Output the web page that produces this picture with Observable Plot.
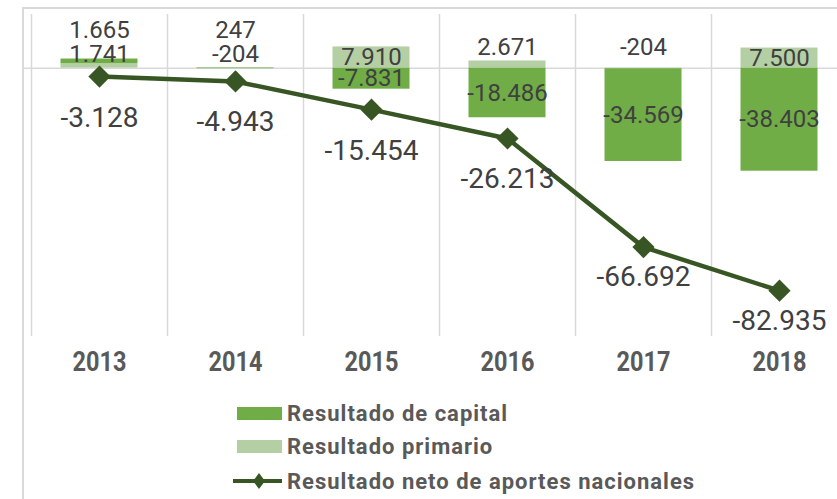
<!DOCTYPE html>
<html><head><meta charset="utf-8">
<script src="https://cdn.jsdelivr.net/npm/d3@7"></script>
<script src="https://cdn.jsdelivr.net/npm/@observablehq/plot@0.6"></script>
<style>
body{margin:0;background:#fff;}
#wrap{position:relative;width:837px;height:499px;overflow:hidden;font-family:Roboto,"Liberation Sans",sans-serif;}
#frame{position:absolute;left:22px;top:7px;width:900px;height:600px;border-top:2px solid #d9d9d9;border-left:2px solid #d9d9d9;}
#chart{position:absolute;left:0;top:0;}
.row{position:absolute;left:233px;height:30px;display:flex;align-items:center;}
.sw{width:45px;height:13px;margin-left:4px;}
.lab{font-weight:bold;color:#595959;font-size:22px;letter-spacing:1px;white-space:nowrap;margin-left:5px;}
</style></head><body>
<div id="wrap"><div id="frame"></div><div id="chart"></div>
<div class="row" style="top:398px"><div class="sw" style="background:#70ad47"></div><span class="lab">Resultado de capital</span></div>
<div class="row" style="top:431px"><div class="sw" style="background:#b4cfa4"></div><span class="lab">Resultado primario</span></div>
<div class="row" style="top:466px"><svg width="49" height="20"><line x1="0" x2="49" y1="10" y2="10" stroke="#375623" stroke-width="4"/><path d="M26,2 L32,10 L26,18 L20,10Z" fill="#375623"/></svg><span class="lab">Resultado neto de aportes nacionales</span></div>
</div>
<script>
const years = ["2013", "2014", "2015", "2016", "2017", "2018"];
const primario = [1665, 247, 7910, 2671, -204, 7500];
const capital = [1741, -204, -7831, -18486, -34569, -38403];
const neto = [-3128, -4943, -15454, -26213, -66692, -82935];
const seriesNames = ["Resultado de capital", "Resultado primario", "Resultado neto de aportes nacionales"];

const fmt = d3.formatLocale({decimal: ",", thousands: ".", grouping: [3], currency: ["", ""], minus: "-"}).format(",.0f");

// stack: primario first, capital on top of it
const segs = [];
years.forEach((yr, i) => {
  let pos = 0, neg = 0;
  [[seriesNames[1], primario[i]], [seriesNames[0], capital[i]]].forEach(([series, v]) => {
    let y1, y2;
    if (v >= 0) { y1 = pos; y2 = pos + v; pos = y2; } else { y1 = neg; y2 = neg + v; neg = y2; }
    segs.push({year: yr, series, value: v, y1, y2});
  });
});
const big = segs.filter(d => Math.abs(d.value) >= 3000);
const small = segs.filter(d => Math.abs(d.value) < 3000);
const countSmall = yr => small.filter(d => d.year === yr).length;
const singleOut = small.filter(d => countSmall(d.year) === 1);
const pairCap = small.filter(d => countSmall(d.year) === 2 && d.series === seriesNames[0]);
const pairPrim = small.filter(d => countSmall(d.year) === 2 && d.series === seriesNames[1]);

const net = years.map((yr, i) => ({year: yr, value: neto[i]}));

const lbl = {fill: "#404040", fontSize: 24, fontFamily: "Roboto", text: d => fmt(d.value)};

const chart = Plot.plot({
  width: 837, height: 385,
  marginLeft: 23, marginRight: 0, marginTop: 0, marginBottom: 0,
  style: {background: "transparent", fontFamily: "Roboto, sans-serif"},
  x: {type: "band", domain: years, range: [31, 847], padding: 0, axis: null},
  y: {domain: [-100000, 20000], range: [336, 14], axis: null},
  color: {domain: seriesNames.slice(0, 2), range: ["#70ad47", "#b4cfa4"]},
  marks: [
    Plot.ruleX(years, {x: d => d, dx: -68, y1: -100000, y2: 20000, stroke: "#d9d9d9", strokeWidth: 1.5}),
    Plot.ruleY([0], {stroke: "#d9d9d9", strokeWidth: 1.5}),
    Plot.barY(segs, {x: "year", y1: "y1", y2: "y2", fill: "series", insetLeft: 29.5, insetRight: 29.5}),
    Plot.line(net, {x: "year", y: "value", stroke: "#375623", strokeWidth: 4.5}),
    Plot.dot(net, {x: "year", y: "value", symbol: "diamond2", r: 10, fill: "#375623"}),
    Plot.text(big, {...lbl, x: "year", y: d => (d.y1 + d.y2) / 2}),
    Plot.text(singleOut, {...lbl, x: "year", y: 0, dy: -21}),
    Plot.text(pairCap, {...lbl, x: "year", y: 0, dy: -14}),
    Plot.text(pairPrim, {...lbl, x: "year", y: 0, dy: -38}),
    Plot.text(net.slice(0, 4), {x: "year", y: "value", dy: 41, text: d => fmt(d.value), fill: "#404040", fontSize: 28}),
    Plot.text(net.slice(4), {x: "year", y: "value", dy: 30, text: d => fmt(d.value), fill: "#404040", fontSize: 28}),
    Plot.text(years, {x: d => d, y: -100000, dy: 26, text: d => d, fontSize: 27, fontWeight: "bold", fill: "#595959"})
  ]
});
document.getElementById("chart").append(chart);
// narrow (condensed-looking) year labels
chart.querySelectorAll("text").forEach(t => {
  if (/^20\d\d$/.test(t.textContent)) {
    const w = t.getComputedTextLength();
    t.setAttribute("textLength", (w * 0.87).toFixed(1));
    t.setAttribute("lengthAdjust", "spacingAndGlyphs");
  }
});
</script>
</body></html>
